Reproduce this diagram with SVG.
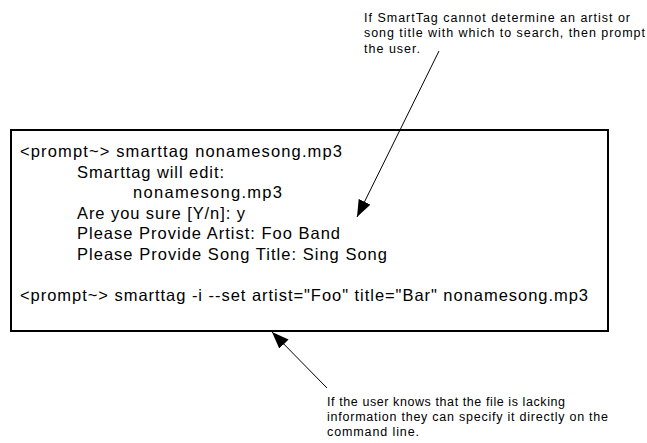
<svg xmlns="http://www.w3.org/2000/svg" width="647" height="443" viewBox="0 0 647 443">
<style>
.t{font-family:"Liberation Sans",Arial,sans-serif;font-size:16.5px;fill:#000}
.n{font-family:"Liberation Sans",Arial,sans-serif;font-size:12.5px;fill:#000}
.c{stroke:#000;stroke-width:1;fill:none}
</style>
<defs>
<marker id="ah" markerUnits="userSpaceOnUse" markerWidth="18" markerHeight="14" refX="17" refY="6.5" orient="auto">
<path d="M0,0 L17,6.5 L0,13 Z" fill="#000"/>
</marker>
</defs>
<rect width="647" height="443" fill="#fff"/>
<g id="console">
<rect x="11" y="130" width="597" height="201" fill="none" stroke="#000" stroke-width="2"/>
<text class="t" x="20" y="157" textLength="322" lengthAdjust="spacing">&lt;prompt~&gt; smarttag nonamesong.mp3</text>
<text class="t" x="77" y="177.5" textLength="147" lengthAdjust="spacing">Smarttag will edit:</text>
<text class="t" x="133" y="198" textLength="149" lengthAdjust="spacing">nonamesong.mp3</text>
<text class="t" x="77" y="218.5" textLength="168" lengthAdjust="spacing">Are you sure [Y/n]: y</text>
<text class="t" x="77" y="239" textLength="263" lengthAdjust="spacing">Please Provide Artist: Foo Band</text>
<text class="t" x="77" y="259.5" textLength="310" lengthAdjust="spacing">Please Provide Song Title: Sing Song</text>
<text class="t" x="20" y="300.5" textLength="568" lengthAdjust="spacing">&lt;prompt~&gt; smarttag -i --set artist="Foo" title="Bar" nonamesong.mp3</text>
</g>
<g id="note-top">
<text class="n" x="364" y="21.5" textLength="266" lengthAdjust="spacing">If SmartTag cannot determine an artist or</text>
<text class="n" x="364" y="37" textLength="281" lengthAdjust="spacing">song title with which to search, then prompt</text>
<text class="n" x="364" y="52.5" textLength="56" lengthAdjust="spacing">the user.</text>
</g>
<g id="note-bottom">
<text class="n" x="327" y="406" textLength="238" lengthAdjust="spacing">If the user knows that the file is lacking</text>
<text class="n" x="327" y="421" textLength="281" lengthAdjust="spacing">information they can specify it directly on the</text>
<text class="n" x="327" y="436" textLength="92" lengthAdjust="spacing">command line.</text>
</g>
<g id="connectors">
<line class="c" x1="439" y1="51" x2="357" y2="217" marker-end="url(#ah)"/>
<line class="c" x1="327" y1="388" x2="272" y2="332" marker-end="url(#ah)"/>
</g>
</svg>
